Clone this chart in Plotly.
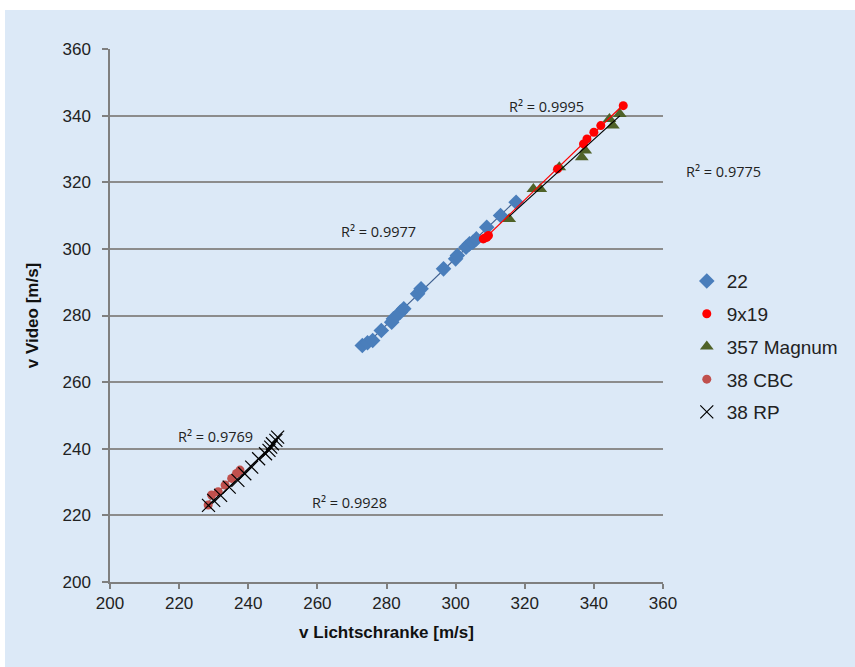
import numpy as np
import plotly.graph_objects as go

# ---- data ----
x_22 = [273, 274.5, 276, 278.5, 281.5, 282, 284, 285, 289, 290, 296.5, 300, 300.5, 303, 304, 305, 306, 309, 313, 317.5]
y_22 = [271, 271.8, 272.5, 275.5, 278, 279, 281, 282, 286.5, 288, 294, 297, 298, 300.5, 301.5, 302, 303, 306.5, 310, 314]

x_919 = [308, 308.5, 309, 309.5, 329.5, 337, 338, 340, 342, 348.5]
y_919 = [303, 303.3, 303.5, 304, 324, 331.5, 333, 335, 337, 343]

x_357 = [315.5, 322.5, 324.5, 330, 336.5, 337.5, 344.5, 345.5, 347.5]
y_357 = [309, 318, 318, 324.5, 327.5, 329.5, 339, 337, 340.5]

x_cbc = [228.4, 229.4, 231.3, 233.3, 235.2, 236.6, 237.6]
y_cbc = [223.1, 226.1, 227.1, 229.1, 231.1, 232.6, 233.6]

x_rp = [228.5, 230, 232, 234.5, 237, 239, 241, 243, 245, 246, 246.5, 247, 248, 248.5]
y_rp = [223, 224.5, 226, 228.5, 230.5, 232.5, 234.5, 237, 238.5, 239.5, 240.5, 241.5, 242.5, 243.5]

# R² labels (in-plot ones in data coords)
r2_labels = ["R² = 0.9995", "R² = 0.9977", "R² = 0.9769", "R² = 0.9928"]
r2_pos_x = [326.2, 277.8, 230.5, 269.2]
r2_pos_y = [342.6, 305.1, 243.8, 224.0]
r2_outside_label = "R² = 0.9775"

x_ticks = [200, 220, 240, 260, 280, 300, 320, 340, 360]
y_ticks = [200, 220, 240, 260, 280, 300, 320, 340, 360]

fig = go.Figure()

def trend(xs, ys, color, width=1.2):
    xs = np.array(xs, dtype=float); ys = np.array(ys, dtype=float)
    m, b = np.polyfit(xs, ys, 1)
    xx = np.array([xs.min(), xs.max()])
    fig.add_trace(go.Scatter(x=xx, y=m * xx + b, mode="lines",
                             line=dict(color=color, width=width),
                             showlegend=False, hoverinfo="skip"))

# trendlines
trend(x_22, y_22, "#3f5f8f")
trend(x_cbc, y_cbc, "#7f7f7f")
trend(x_rp, y_rp, "#000000")

fig.add_trace(go.Scatter(x=x_22, y=y_22, mode="markers", name="22", legendgroup="a",
                         marker=dict(symbol="diamond", size=12, color="#4a7ebb"), legendrank=1))
fig.add_trace(go.Scatter(x=x_cbc, y=y_cbc, mode="markers", name="38 CBC", legendgroup="d",
                         marker=dict(symbol="circle", size=9, color="#c0504d"), legendrank=4))
fig.add_trace(go.Scatter(x=x_rp, y=y_rp, mode="markers", name="38 RP", legendgroup="e",
                         marker=dict(symbol="x-thin", size=13, line=dict(color="#000000", width=1.2)),
                         legendrank=5))
fig.add_trace(go.Scatter(x=x_357, y=y_357, mode="markers", name="357 Magnum", legendgroup="c",
                         marker=dict(symbol="triangle-up", size=12, color="#4f6228"), legendrank=3))
fig.add_trace(go.Scatter(x=x_919, y=y_919, mode="markers", name="9x19", legendgroup="b",
                         marker=dict(symbol="circle", size=9, color="#ff0000"), legendrank=2))
trend(x_357, y_357, "#000000")
trend(x_919, y_919, "#ff0000")

r2_font = dict(family="Open Sans", size=14.5, color="#222222")
for t, xa, ya in zip(r2_labels, r2_pos_x, r2_pos_y):
    fig.add_annotation(x=xa, y=ya, text=t, showarrow=False, font=r2_font,
                       xanchor="center", yanchor="middle")
fig.add_annotation(x=(723.5 - 110) / 553, y=(582 - 171) / 533, xref="paper", yref="paper",
                   text=r2_outside_label, showarrow=False, font=r2_font,
                   xanchor="center", yanchor="middle")

tick_font = dict(family="Liberation Sans", size=17, color="#222222")
title_font = dict(family="Liberation Sans", size=17, color="#111111")
fig.update_xaxes(range=[200, 360], tickvals=x_ticks, showgrid=False, zeroline=False,
                 showline=True, linecolor="#7f7f7f", linewidth=1.5,
                 ticks="outside", ticklen=5, tickcolor="#7f7f7f", tickwidth=1.5,
                 tickfont=tick_font,
                 title=dict(text="<b>v Lichtschranke [m/s]</b>", font=title_font, standoff=14))
fig.update_yaxes(range=[200, 360], tickvals=y_ticks, showgrid=True, gridcolor="#8c8c8c", gridwidth=1.5,
                 zeroline=False, showline=True, linecolor="#7f7f7f", linewidth=1.5,
                 ticks="outside", ticklen=6, tickcolor="#7f7f7f", tickwidth=1.5,
                 tickfont=tick_font, ticklabelstandoff=8,
                 title=dict(text="<b>v Video [m/s]</b>", font=title_font, standoff=20))

fig.add_shape(type="rect", xref="paper", yref="paper",
              x0=(5 - 110) / 553, x1=(860 - 110) / 553,
              y0=(582 - 672) / 533, y1=(582 - 10) / 533,
              fillcolor="#dce9f7", line=dict(width=0), layer="below")

fig.update_layout(
    width=855, height=667,
    margin=dict(l=110, r=192, t=49, b=85),
    paper_bgcolor="#ffffff", plot_bgcolor="rgba(0,0,0,0)",
    legend=dict(x=1.043, y=0.6, xanchor="left", yanchor="top",
                font=dict(family="Liberation Sans", size=19, color="#222222"),
                bgcolor="rgba(0,0,0,0)", tracegroupgap=5, itemwidth=30),
    showlegend=True,
)

fig.write_html("out.html", config={"displayModeBar": False},
               post_script="document.body.style.margin='0px';")
